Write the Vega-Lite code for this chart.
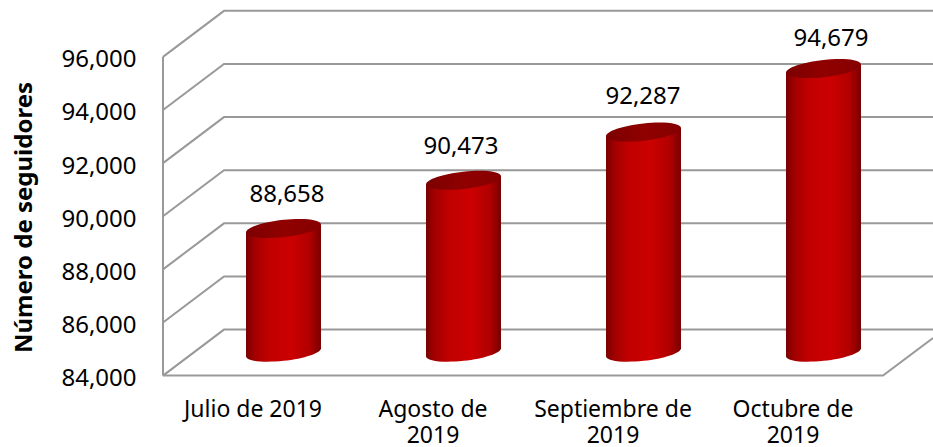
{"$schema":"https://vega.github.io/schema/vega-lite/v6.json","width":770,"height":375.6,"autosize":{"type":"none"},"padding":{"left":163,"top":0,"right":0,"bottom":71.4},"background":"white","config":{"view":{"stroke":null},"font":"Noto Sans"},"datasets":{"series":[{"mes":"Julio de 2019","seguidores":88658},{"mes":"Agosto de 2019","seguidores":90473},{"mes":"Septiembre de 2019","seguidores":92287},{"mes":"Octubre de 2019","seguidores":94679}],"marco":[{"linea":"g84","eje":0,"nivel":84000},{"linea":"g84","eje":61,"nivel":85732},{"linea":"g84","eje":770,"nivel":85732},{"linea":"g86","eje":0,"nivel":86000},{"linea":"g86","eje":61,"nivel":87732},{"linea":"g86","eje":770,"nivel":87732},{"linea":"g88","eje":0,"nivel":88000},{"linea":"g88","eje":61,"nivel":89732},{"linea":"g88","eje":770,"nivel":89732},{"linea":"g90","eje":0,"nivel":90000},{"linea":"g90","eje":61,"nivel":91732},{"linea":"g90","eje":770,"nivel":91732},{"linea":"g92","eje":0,"nivel":92000},{"linea":"g92","eje":61,"nivel":93732},{"linea":"g92","eje":770,"nivel":93732},{"linea":"g94","eje":0,"nivel":94000},{"linea":"g94","eje":61,"nivel":95732},{"linea":"g94","eje":770,"nivel":95732},{"linea":"g96","eje":0,"nivel":96000},{"linea":"g96","eje":61,"nivel":97732},{"linea":"g96","eje":770,"nivel":97732},{"linea":"piso","eje":0,"nivel":84000},{"linea":"piso","eje":720,"nivel":84000},{"linea":"piso","eje":770,"nivel":85416},{"linea":"eje","eje":0,"nivel":84000},{"linea":"eje","eje":0,"nivel":96000}]},"resolve":{"scale":{"x":"independent"},"axis":{"x":"independent"}},"layer":[{"data":{"name":"marco"},"mark":{"type":"line","color":"#999999","strokeWidth":2,"strokeJoin":"miter"},"encoding":{"x":{"field":"eje","type":"quantitative","scale":{"domain":[0,770],"nice":false,"zero":false},"axis":null},"y":{"field":"nivel","type":"quantitative","scale":{"domain":[84000,98141],"nice":false,"zero":false},"axis":{"values":[84000,86000,88000,90000,92000,94000,96000],"format":",d","domain":false,"ticks":false,"grid":false,"labelFontSize":24,"labelColor":"#000000","labelPadding":27,"labelOffset":3,"labelFont":"Noto Sans","title":"Número de seguidores","titleFontSize":24,"titleFontWeight":"bold","titleColor":"#000000","titleFont":"Noto Sans","titleX":-139,"titleY":217,"titleAngle":270,"titleAlign":"center","titleBaseline":"middle"}},"detail":{"field":"linea"},"order":{"field":"eje","type":"quantitative"}}},{"data":{"name":"series"},"encoding":{"x":{"field":"mes","type":"nominal","sort":null,"scale":{"range":[0,720],"paddingInner":0,"paddingOuter":0},"axis":{"title":null,"domain":false,"ticks":false,"grid":false,"labelAngle":0,"labelFontSize":23,"labelColor":"#000000","labelFont":"Noto Sans","labelPadding":23,"labelLineHeight":26,"labelLimit":0,"labelExpr":"datum.label == 'Julio de 2019' ? datum.label : [slice(datum.label,0,lastindexof(datum.label,' ')), '2019']"}}},"layer":[{"mark":{"type":"bar","width":75,"xOffset":30.5,"yOffset":-15.4,"y2Offset":-31.4,"color":{"gradient":"linear","x1":0,"x2":1,"y1":0,"y2":0,"stops":[{"offset":0,"color":"#7a0000"},{"offset":0.12,"color":"#a30000"},{"offset":0.3,"color":"#c00000"},{"offset":0.6,"color":"#cc0000"},{"offset":0.85,"color":"#b00000"},{"offset":1,"color":"#780000"}]}},"encoding":{"y":{"field":"seguidores","type":"quantitative"},"y2":{"datum":84000}}},{"mark":{"type":"point","filled":true,"opacity":1,"size":5625,"xOffset":30.5,"yOffset":-23.4,"shape":"M-1,0.1067L1,-0.1067L1,0.3L-1,0.3Z","color":{"gradient":"linear","x1":0,"x2":1,"y1":0,"y2":0,"stops":[{"offset":0,"color":"#7a0000"},{"offset":0.12,"color":"#a30000"},{"offset":0.3,"color":"#c00000"},{"offset":0.6,"color":"#cc0000"},{"offset":0.85,"color":"#b00000"},{"offset":1,"color":"#780000"}]}},"encoding":{"y":{"field":"seguidores","type":"quantitative"}}},{"mark":{"type":"point","filled":true,"opacity":1,"size":5625,"xOffset":30.5,"yOffset":-23.4,"shape":"M-1,-0.3L1,-0.3L1,-0.1067C1,0.0203 0.5523,0.1711 0,0.23C-0.5523,0.2889 -1,0.2337 -1,0.1067Z","color":{"gradient":"linear","x1":0,"x2":1,"y1":0,"y2":0,"stops":[{"offset":0,"color":"#7a0000"},{"offset":0.12,"color":"#a30000"},{"offset":0.3,"color":"#c00000"},{"offset":0.6,"color":"#cc0000"},{"offset":0.85,"color":"#b00000"},{"offset":1,"color":"#780000"}]}},"encoding":{"y":{"datum":84000}}},{"mark":{"type":"point","filled":true,"opacity":1,"size":5625,"xOffset":30.5,"yOffset":-23.4,"shape":"M1,-0.1067C1,0.0203 0.5523,0.1711 0,0.23C-0.5523,0.2889 -1,0.2337 -1,0.1067C-1,-0.0203 -0.5523,-0.1711 0,-0.23C0.5523,-0.2889 1,-0.2337 1,-0.1067Z","color":{"gradient":"linear","x1":0,"x2":1,"y1":0,"y2":0,"stops":[{"offset":0,"color":"#7c0000"},{"offset":0.5,"color":"#900000"},{"offset":1,"color":"#860000"}]}},"encoding":{"y":{"field":"seguidores","type":"quantitative"}}},{"transform":[{"filter":"datum.mes == 'Julio de 2019'"}],"mark":{"type":"text","fontSize":24,"color":"#000000","font":"Noto Sans","baseline":"middle","xOffset":34,"yOffset":-56.9},"encoding":{"y":{"field":"seguidores","type":"quantitative"},"text":{"field":"seguidores","type":"quantitative","format":",d"}}},{"transform":[{"filter":"datum.mes == 'Agosto de 2019'"}],"mark":{"type":"text","fontSize":24,"color":"#000000","font":"Noto Sans","baseline":"middle","xOffset":28,"yOffset":-56.2},"encoding":{"y":{"field":"seguidores","type":"quantitative"},"text":{"field":"seguidores","type":"quantitative","format":",d"}}},{"transform":[{"filter":"datum.mes == 'Septiembre de 2019'"}],"mark":{"type":"text","fontSize":24,"color":"#000000","font":"Noto Sans","baseline":"middle","xOffset":30,"yOffset":-58.6},"encoding":{"y":{"field":"seguidores","type":"quantitative"},"text":{"field":"seguidores","type":"quantitative","format":",d"}}},{"transform":[{"filter":"datum.mes == 'Octubre de 2019'"}],"mark":{"type":"text","fontSize":24,"color":"#000000","font":"Noto Sans","baseline":"middle","xOffset":38,"yOffset":-53.1},"encoding":{"y":{"field":"seguidores","type":"quantitative"},"text":{"field":"seguidores","type":"quantitative","format":",d"}}}]}]}
